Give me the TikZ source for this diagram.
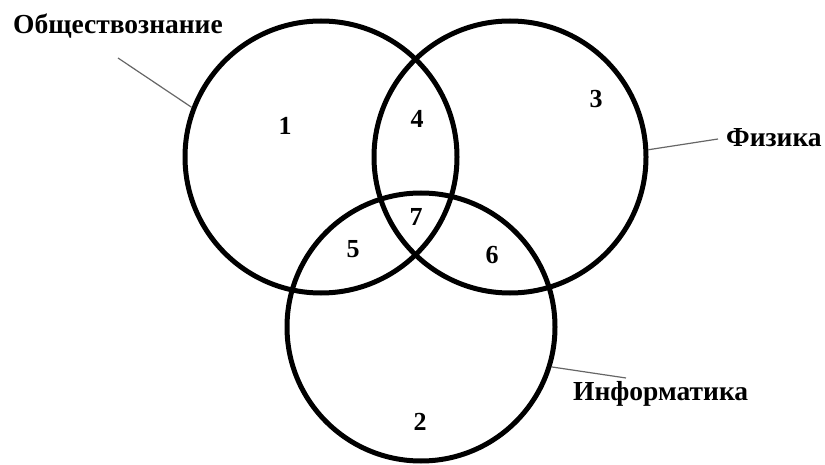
\documentclass[tikz,border=0pt]{standalone}
\usepackage{fontspec}
\setmainfont{Liberation Serif}
\usepackage{tikz}
\usetikzlibrary{calc,positioning}

\tikzset{
    ring/.style={draw, circle, line width=5pt, minimum size=272pt, inner sep=0pt},
    lbl/.style={font=\bfseries\fontsize{27.5}{32}\selectfont, inner sep=0pt},
    num/.style={font=\bfseries\fontsize{26}{30}\selectfont, inner sep=0pt},
    leader/.style={draw=gray!80!black, line width=1.2pt}
}

\begin{document}
\begin{tikzpicture}[x=1pt, y=-1pt]
    \useasboundingbox (0,0) rectangle (825,465);

    % Circles
    \node[ring] (obsh) at (321,157) {};
    \node[ring] (fiz) at (510,157) {};
    \node[ring, minimum size=268pt] (inf) at (421,327) {};

    % Labels
    \node[lbl, anchor=west] (tobsh) at (13,26) {Обществознание};
    \node[lbl, anchor=west] (tfiz) at (726,138) {Физика};
    \node[lbl, anchor=west] (tinf) at (573,394) {Информатика};

    \coordinate (eobsh) at (118,58);
    \coordinate (efiz) at (718,139);
    \coordinate (einf) at (626,378);
    \draw[leader] (obsh.159) -- (eobsh);
    \draw[leader] (fiz.3) -- (efiz);
    \draw[leader] (inf.-17) -- (einf);

    % Regions
    \foreach \n/\x/\y in {1/285/126, 2/420/422, 3/596/99, 4/417/119,
                          5/353/249, 6/492/255, 7/416/217} {
        \node[num] (r\n) at (\x,\y) {\n};
    }

\end{tikzpicture}
\end{document}
